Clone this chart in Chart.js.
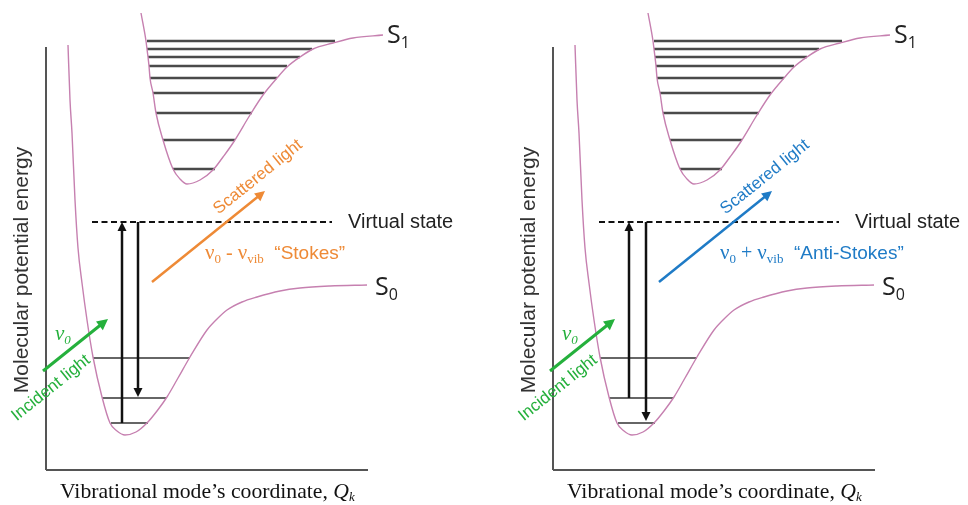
<!DOCTYPE html>
<html>
<head>
<meta charset="utf-8">
<script src="https://cdn.jsdelivr.net/npm/chart.js@4"></script>
<style>
html, body { margin: 0; padding: 0; background: #fff; }
#wrap { position: relative; width: 968px; height: 505px; overflow: hidden; }
.panel { position: absolute; top: 0; width: 484px; height: 505px; }
</style>
</head>
<body>
<div id="wrap">
  <div class="panel" style="left:0"><canvas id="stokesChart" width="484" height="505"></canvas></div>
  <div class="panel" style="left:484px"><canvas id="antiStokesChart" width="484" height="505"></canvas></div>
</div>
<script>
// Potential curves (x = coordinate, y = energy, origin at the axes corner)
const s0X = [22, 24, 26, 29, 32, 36, 41, 47, 56, 64, 71, 79, 90, 101, 111, 121, 132, 144, 161, 171, 181, 196, 211, 234, 254, 284, 321];
const s0Y = [425, 370, 337, 270, 222, 187, 150, 113, 73, 47, 39, 35, 38, 47, 59, 73, 92, 113, 140, 151, 160, 168, 173, 179, 182, 184, 185];
const s1X = [95, 100, 101, 102, 103, 104, 107, 110, 117, 127, 134, 141, 154, 167, 177, 187, 204, 217, 231, 241, 254, 267, 287, 307, 337];
const s1Y = [457, 429, 421, 413, 404, 392, 377, 357, 330, 301, 291, 286, 290, 300, 313, 327, 355, 375, 392, 403, 413, 421, 427, 432, 435];

// Vibrational levels: [left x, right x, energy]
const s0Levels = [[47, 144, 112], [56, 120, 72], [65, 102, 47]];
const s1Levels = [[101, 289, 429], [101, 266, 421], [102, 254, 413], [103, 241, 404], [104, 231, 392],
                  [107, 218, 377], [110, 206, 357], [117, 189, 330], [127, 169, 301]];
const virtualState = [46, 286, 248];
const axisTop = 423, axisRight = 322;

// Transitions: [x, from energy, to energy]
const stokesUp = [76, 47, 248], stokesDown = [92, 248, 73];
const antiUp = [76, 72, 248], antiDown = [93, 248, 49];
// Light arrows: [x0, y0, x1, y1]
const incidentArrow = [-3, 99, 62, 151];
const scatterArrow = [106, 188, 219, 279];

const stokesParts = ['ν', '0', ' - ', 'ν', 'vib', '  “Stokes”'];
const antiParts = ['ν', '0', ' + ', 'ν', 'vib', '  “Anti-Stokes”'];

const CURVE = '#c680b0', ORANGE = '#ee8a36', BLUE = '#1f7bc6', GREEN = '#25b03c';
const SANS = '"Liberation Sans", Arial, sans-serif';
const SERIF = '"Liberation Serif", "Times New Roman", serif';

const pts = (xs, ys) => xs.map((x, i) => ({ x, y: ys[i] }));
const seg = (x0, x1, y0, y1, color, width, extra) => Object.assign({
    data: [{ x: x0, y: y0 }, { x: x1, y: y1 }], borderColor: color, borderWidth: width,
    pointRadius: 0, showLine: true, fill: false
}, extra || {});

function baseDatasets() {
    const ds = [
        { data: pts(s0X, s0Y), borderColor: CURVE, borderWidth: 1.4, pointRadius: 0, showLine: true, cubicInterpolationMode: 'monotone' },
        { data: pts(s1X, s1Y), borderColor: CURVE, borderWidth: 1.4, pointRadius: 0, showLine: true, cubicInterpolationMode: 'monotone' },
        seg(0, 0, 0, axisTop, '#555', 2),
        seg(0, axisRight, 0, 0, '#555', 2),
        seg(virtualState[0], virtualState[1], virtualState[2], virtualState[2], '#111', 2, { borderDash: [6, 3.5] })
    ];
    s0Levels.forEach(l => ds.push(seg(l[0], l[1], l[2], l[2], '#333', 1.5)));
    s1Levels.forEach(l => ds.push(seg(l[0], l[1], l[2], l[2], '#4a4a4a', 2.5)));
    return ds;
}

function drawParts(ctx, x, y, parts) {
    let cx = x;
    parts.forEach(p => {
        ctx.font = p.font;
        ctx.fillText(p.t, cx, y + (p.dy || 0));
        cx += ctx.measureText(p.t).width;
    });
}

const diagramPlugin = {
    id: 'diagram',
    afterDatasetsDraw(chart) {
        const cfg = chart.options.plugins.diagram;
        const ctx = chart.ctx, sx = chart.scales.x, sy = chart.scales.y;
        const px = v => sx.getPixelForValue(v), py = v => sy.getPixelForValue(v);

        const arrow = (x0, y0, x1, y1, color, width, head) => {
            const a = px(x0), b = py(y0), c = px(x1), d = py(y1);
            const ang = Math.atan2(d - b, c - a);
            ctx.save();
            ctx.strokeStyle = color; ctx.fillStyle = color; ctx.lineWidth = width;
            ctx.beginPath();
            ctx.moveTo(a, b);
            ctx.lineTo(c - Math.cos(ang) * head * 0.8, d - Math.sin(ang) * head * 0.8);
            ctx.stroke();
            ctx.translate(c, d); ctx.rotate(ang);
            ctx.beginPath();
            ctx.moveTo(0, 0); ctx.lineTo(-head, -head * 0.5); ctx.lineTo(-head, head * 0.5);
            ctx.closePath(); ctx.fill();
            ctx.restore();
            return ang;
        };

        // vertical transitions
        arrow(cfg.up[0], cfg.up[1], cfg.up[0], cfg.up[2], '#111', 2.5, 9);
        arrow(cfg.down[0], cfg.down[1], cfg.down[0], cfg.down[2], '#111', 2.5, 9);
        // light
        const inAng = arrow(incidentArrow[0], incidentArrow[1], incidentArrow[2], incidentArrow[3], GREEN, 3, 11);
        const scAng = arrow(scatterArrow[0], scatterArrow[1], scatterArrow[2], scatterArrow[3], cfg.color, 2.5, 10);

        ctx.save();
        const rotText = (t, x, y, ang, font, color) => {
            ctx.save();
            ctx.translate(px(x), py(y)); ctx.rotate(ang);
            ctx.font = font; ctx.fillStyle = color;
            ctx.textAlign = 'center'; ctx.textBaseline = 'middle';
            ctx.fillText(t, 0, 0);
            ctx.restore();
        };
        rotText('Scattered light', 212, 293, scAng, '17px ' + SANS, cfg.color);
        rotText('Incident light', 5, 82, inAng, '17px ' + SANS, GREEN);
        rotText('Molecular potential energy', -24, 200, -Math.PI / 2, '21px ' + SANS, '#333');

        ctx.textAlign = 'left'; ctx.textBaseline = 'alphabetic';
        ctx.fillStyle = GREEN;
        drawParts(ctx, px(9), py(130), [
            { t: 'ν', font: 'italic 21px ' + SERIF },
            { t: '0', font: 'italic 13px ' + SERIF, dy: 4 }
        ]);

        ctx.fillStyle = cfg.color;
        const p = cfg.parts;
        drawParts(ctx, px(cfg.textX), py(211), [
            { t: p[0], font: '21px ' + SERIF },
            { t: p[1], font: '13px ' + SERIF, dy: 4 },
            { t: p[2], font: '20px ' + SERIF },
            { t: p[3], font: '21px ' + SERIF },
            { t: p[4], font: '13px ' + SERIF, dy: 4 },
            { t: p[5], font: '19px ' + SANS }
        ]);

        ctx.fillStyle = '#222';
        ctx.textBaseline = 'middle';
        ctx.font = '20px ' + SANS;
        ctx.fillText('Virtual state', px(302), py(virtualState[2]));

        ctx.textBaseline = 'alphabetic';
        drawParts(ctx, px(341), py(427), [
            { t: 'S', font: '25px "Open Sans", sans-serif' },
            { t: '1', font: '16px "Open Sans", sans-serif', dy: 5 }
        ]);
        drawParts(ctx, px(329), py(175), [
            { t: 'S', font: '25px "Open Sans", sans-serif' },
            { t: '0', font: '16px "Open Sans", sans-serif', dy: 5 }
        ]);

        ctx.fillStyle = '#111';
        drawParts(ctx, px(14), py(-28), [
            { t: 'Vibrational mode’s coordinate, ', font: '21.7px ' + SERIF },
            { t: 'Q', font: 'italic 21.7px ' + SERIF },
            { t: 'k', font: 'italic 13px ' + SERIF, dy: 3 }
        ]);
        ctx.restore();
    }
};

function makePanel(id, xMin, up, down, color, parts, textX) {
    return new Chart(document.getElementById(id), {
        type: 'scatter',
        data: { datasets: baseDatasets() },
        options: {
            responsive: false,
            animation: false,
            devicePixelRatio: 1,
            layout: { padding: 0 },
            elements: { line: { borderCapStyle: 'butt' } },
            scales: {
                x: { type: 'linear', display: false, min: xMin, max: xMin + 484 },
                y: { type: 'linear', display: false, min: -35, max: 470 }
            },
            plugins: {
                legend: { display: false },
                tooltip: { enabled: false },
                diagram: { up, down, color, parts, textX }
            }
        },
        plugins: [diagramPlugin]
    });
}

makePanel('stokesChart', -46, stokesUp, stokesDown, ORANGE, stokesParts, 159);
makePanel('antiStokesChart', -69, antiUp, antiDown, BLUE, antiParts, 167);
</script>
</body>
</html>
